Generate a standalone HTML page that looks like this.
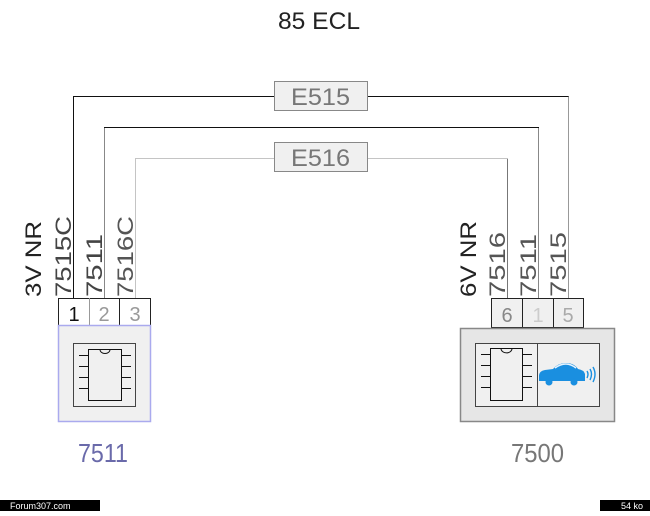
<!DOCTYPE html>
<html><head><style>
body{margin:0;background:#fff;}
svg text{font-family:"Liberation Sans",sans-serif;}
</style></head><body>
<svg width="650" height="511" viewBox="0 0 650 511" xmlns="http://www.w3.org/2000/svg">
<text x="278" y="29" font-size="24" textLength="82" lengthAdjust="spacingAndGlyphs" fill="#222">85 ECL</text>
<!-- wires -->
<polyline points="73.5,298 73.5,96.5 568.5,96.5 568.5,298" fill="none" stroke="#111" stroke-width="1"/>
<line x1="568.5" y1="96.5" x2="568.5" y2="298" stroke="#999"/>
<polyline points="104.5,298 104.5,127.5 538.5,127.5 538.5,298" fill="none" stroke="#111" stroke-width="1"/>
<line x1="104.5" y1="128" x2="104.5" y2="298" stroke="#888"/>
<line x1="538.5" y1="128" x2="538.5" y2="298" stroke="#888"/>
<polyline points="135.5,298 135.5,158.5 507.5,158.5 507.5,298" fill="none" stroke="#c4c4c4" stroke-width="1"/>
<line x1="507.5" y1="159" x2="507.5" y2="298" stroke="#777"/>
<!-- label boxes -->
<rect x="274.5" y="81.5" width="93" height="29" fill="#f0f0f0" stroke="#888"/>
<text x="291" y="105" font-size="24" textLength="59" lengthAdjust="spacingAndGlyphs" fill="#777">E515</text>
<rect x="274.5" y="142.5" width="93" height="29" fill="#f0f0f0" stroke="#888"/>
<text x="291" y="166" font-size="24" textLength="59" lengthAdjust="spacingAndGlyphs" fill="#777">E516</text>
<!-- vertical labels -->
<g font-size="22" fill="#222" lengthAdjust="spacingAndGlyphs">
<text transform="translate(41,297) rotate(-90)" textLength="76" lengthAdjust="spacingAndGlyphs">3V NR</text>
<text transform="translate(71,297) rotate(-90)" textLength="81" lengthAdjust="spacingAndGlyphs" fill="#444">7515C</text>
<text transform="translate(102,297) rotate(-90)" textLength="63" lengthAdjust="spacingAndGlyphs" fill="#444">7511</text>
<text transform="translate(133,297) rotate(-90)" textLength="81" lengthAdjust="spacingAndGlyphs" fill="#555">7516C</text>
<text transform="translate(476,297) rotate(-90)" textLength="76" lengthAdjust="spacingAndGlyphs">6V NR</text>
<text transform="translate(505,297) rotate(-90)" textLength="65" lengthAdjust="spacingAndGlyphs" fill="#555">7516</text>
<text transform="translate(536,297) rotate(-90)" textLength="63" lengthAdjust="spacingAndGlyphs" fill="#555">7511</text>
<text transform="translate(566,297) rotate(-90)" textLength="65" lengthAdjust="spacingAndGlyphs" fill="#555">7515</text>
</g>
<!-- left connector -->
<rect x="58.5" y="298.5" width="92" height="27" fill="#fff" stroke="#222"/>
<line x1="89.5" y1="298" x2="89.5" y2="326" stroke="#999"/>
<line x1="119.5" y1="298" x2="119.5" y2="326" stroke="#222"/>
<text x="74" y="321" font-size="20" text-anchor="middle" fill="#111">1</text>
<text x="104" y="321" font-size="20" text-anchor="middle" fill="#999">2</text>
<text x="135" y="321" font-size="20" text-anchor="middle" fill="#999">3</text>
<rect x="58.5" y="325.5" width="92" height="96" fill="#f0f0f0" stroke="#aaaaee" stroke-width="1.5"/>
<rect x="73.5" y="343.5" width="62" height="63" fill="#f0f0f0" stroke="#444"/>
<g stroke="#111" fill="none">
<rect x="88.5" y="349.5" width="33" height="51" fill="#f0f0f0"/>
<path d="M100 349.5 a5 4 0 0 0 10 0"/>
<path d="M79 355.5h10M79 366.5h10M79 377.5h10M79 388.5h10M121 355.5h10M121 366.5h10M121 377.5h10M121 388.5h10"/>
</g>
<text x="78" y="462" font-size="26" textLength="50" lengthAdjust="spacingAndGlyphs" fill="#6a6aaa">7511</text>
<!-- right connector -->
<rect x="491.5" y="298.5" width="92" height="29" fill="#f0f0f0" stroke="#222"/>
<line x1="522.5" y1="298" x2="522.5" y2="328" stroke="#222"/>
<line x1="553.5" y1="298" x2="553.5" y2="328" stroke="#222"/>
<text x="507" y="322" font-size="20" text-anchor="middle" fill="#888">6</text>
<text x="538" y="322" font-size="20" text-anchor="middle" fill="#ccc">1</text>
<text x="568" y="322" font-size="20" text-anchor="middle" fill="#aaa">5</text>
<rect x="460.5" y="328.5" width="154" height="93" fill="#e6e6e6" stroke="#888" stroke-width="1.5"/>
<rect x="475.5" y="343.5" width="124" height="63" fill="#f0f0f0" stroke="#444"/>
<line x1="537.5" y1="343" x2="537.5" y2="407" stroke="#444"/>
<g stroke="#111" fill="none">
<rect x="490.5" y="348.5" width="32" height="52" fill="#f0f0f0"/>
<path d="M501 348.5 a5 4 0 0 0 11 0"/>
<path d="M481 354.5h10M481 365.5h10M481 376.5h10M481 387.5h10M522 354.5h10M522 365.5h10M522 376.5h10M522 387.5h10"/>
</g>
<g fill="#1a8fe0">
<path d="M539 376 q0-5 6-6 l8-1 q5-6 13-6 q8 0 12 6 q6 1 7 5 v7 h-46 z"/>
<circle cx="549" cy="382" r="3.5"/><circle cx="574" cy="382" r="3.5"/>
</g>
<path d="M555 368 q11-8 21 0" stroke="#e8f4ff" stroke-width="1.5" fill="none"/>
<g stroke="#1a8fe0" fill="none" stroke-width="1.4">
<path d="M587 371 q2 3 0 7M590 369 q3 5 0 11M593 367 q4 7 0 15"/>
</g>
<text x="511" y="462" font-size="26" textLength="53" lengthAdjust="spacingAndGlyphs" fill="#777">7500</text>
<!-- footer -->
<rect x="0" y="500" width="100" height="11" fill="#000"/>
<text x="10" y="509" font-size="9" fill="#fff" font-family="Liberation Mono,monospace">Forum307.com</text>
<rect x="600" y="500" width="50" height="11" fill="#000"/>
<text x="643" y="509" font-size="9" fill="#fff" text-anchor="end" font-family="Liberation Mono,monospace">54 ko</text>
</svg>
</body></html>
